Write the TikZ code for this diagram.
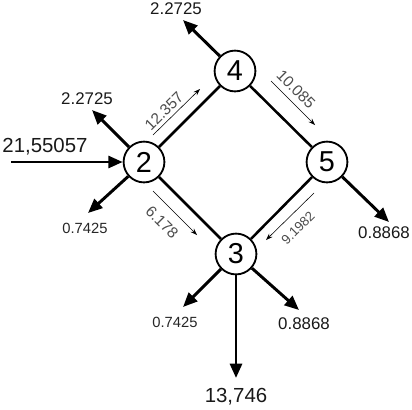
\documentclass[tikz,border=0pt]{standalone}
\usepackage{fontspec}
\setmainfont{Liberation Sans}
\usetikzlibrary{arrows.meta,calc}
\newcommand\PxUnit{0.025cm}
\tikzset{
  junction/.style={
    shape = circle,
    draw,
    fill = white,
    line width = 1.3pt,
    minimum size = 1.02cm,
    inner sep = 0pt,
    font = \fontsize{20.5}{20.5}\selectfont
  },
  pipe/.style={
    line width = 1.8pt
  },
  outflow/.style={
    line width = 2.1pt,
    -{Triangle[length=0.36cm,width=0.3cm]}
  },
  flow/.style={
    line width = 0.4pt,
    -{Stealth[length=1.7mm,width=1.2mm]}
  },
  rate/.style={
    font = \fontsize{12}{12}\selectfont,
    text = black!90,
    inner sep = 1pt
  },
  smallrate/.style={
    font = \fontsize{10.5}{10.5}\selectfont,
    text = black!85,
    inner sep = 1pt
  },
  bigrate/.style={
    font = \fontsize{14.5}{14.5}\selectfont,
    text = black!90,
    inner sep = 1pt
  },
  pipelabel/.style={
    font = \fontsize{11}{11}\selectfont,
    text = black!70,
    inner sep = 0pt
  }
}

\begin{document}
\begin{tikzpicture}[x=\PxUnit, y=-\PxUnit]
    \useasboundingbox (0,0) rectangle (412,409);

    % junctions
    \node[junction] (n2) at (144,162) {2};
    \node[junction] (n4) at (235,71) {4};
    \node[junction] (n5) at (327,162) {5};
    \node[junction] (n3) at (236,254) {3};

    % pipes
    \draw[pipe] (n2) -- (n4);
    \draw[pipe] (n4) -- (n5);
    \draw[pipe] (n2) -- (n3);
    \draw[pipe] (n5) -- (n3);

    % inflow and outflows
    \coordinate (in2) at (11,162);
    \coordinate (o4) at (183,20);
    \coordinate (o2a) at (92,110);
    \coordinate (o2b) at (88,213);
    \coordinate (o5) at (389,222);
    \coordinate (o3a) at (183,307);
    \coordinate (o3b) at (299,310);
    \coordinate (o3c) at (236,378);
    \draw[outflow] (in2) -- (n2);
    \draw[outflow] (n4) -- (o4);
    \draw[outflow] (n2) -- (o2a);
    \draw[outflow] (n2) -- (o2b);
    \draw[outflow] (n5) -- (o5);
    \draw[outflow] (n3) -- (o3a);
    \draw[outflow] (n3) -- (o3b);
    \draw[outflow] (n3) -- (o3c);

    \node[bigrate] (q2in) at (45,147) {21,55057};
    \node[rate] (q4) at (176,9) {2.2725};
    \node[rate] (q2a) at (87,98.5) {2.2725};
    \node[smallrate] (q2b) at (85,228) {0.7425};
    \node[rate] (q5) at (384,232.5) {0.8868};
    \node[smallrate] (q3a) at (175,322) {0.7425};
    \node[rate] (q3b) at (304,323.5) {0.8868};
    \node[bigrate] (q3c) at (236,397) {13,746};

    % flows in the pipes
    \coordinate (f24a) at (153,135);
    \coordinate (f24b) at (200,89);
    \coordinate (f45a) at (271,81);
    \coordinate (f45b) at (315,125);
    \coordinate (f23a) at (153,191);
    \coordinate (f23b) at (197,235);
    \coordinate (f53a) at (314,193);
    \coordinate (f53b) at (266,240);
    \draw[flow] (f24a) -- (f24b);
    \draw[flow] (f45a) -- (f45b);
    \draw[flow] (f23a) -- (f23b);
    \draw[flow] (f53a) -- (f53b);

    \node[pipelabel, rotate=45] (p24) at (164,111) {12.357};
    \node[pipelabel, rotate=-45] (p45) at (296,89) {10.085};
    \node[pipelabel, rotate=-45] (p23) at (162,222) {6.178};
    \node[pipelabel, rotate=45, font=\fontsize{9.5}{9.5}\selectfont] (p53) at (298,228) {9.1982};
\end{tikzpicture}
\end{document}
